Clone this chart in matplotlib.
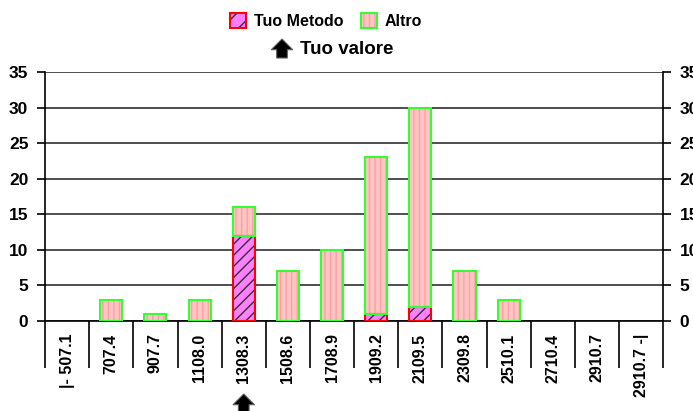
import numpy as np
import matplotlib
matplotlib.use('agg')
import matplotlib.pyplot as plt
from matplotlib.patches import Patch
from matplotlib.legend_handler import HandlerTuple

# class labels (x axis)
labels = ['|- 507.1', '707.4', '907.7', '1108.0', '1308.3', '1508.6', '1708.9',
          '1909.2', '2109.5', '2309.8', '2510.1', '2710.4', '2910.7', '2910.7 -|']
tuo_metodo = [0, 0, 0, 0, 12, 0, 0, 1, 2, 0, 0, 0, 0, 0]
altro = [0, 3, 1, 3, 4, 7, 10, 22, 28, 7, 3, 0, 0, 0]
tuo_valore_idx = 4

plt.rcParams['font.family'] = ['Liberation Sans', 'DejaVu Sans']
plt.rcParams['font.weight'] = 'bold'
plt.rcParams['hatch.linewidth'] = 1.0

fig = plt.figure(figsize=(6.93, 4.11), dpi=100)
ax = fig.add_axes([0.065, 0.219, 0.892, 0.606])

x = np.arange(len(labels))
tm = np.array(tuo_metodo)
al = np.array(altro)
w = 0.5

# fills with hatch (hatch colour = edgecolor), then outlines on top
ax.bar(x, tm, w, color='#ff80ff', edgecolor='#303030', hatch='///', lw=0, zorder=3)
ax.bar(x, al, w, bottom=tm, color='#ffc4c4', edgecolor='#ffa0a0', hatch='|||', lw=0, zorder=3)
mask_t = tm > 0
mask_a = al > 0
ax.bar(x[mask_t], tm[mask_t], w, fill=False, edgecolor='#ff0000', lw=1.5, zorder=4)
ax.bar(x[mask_a], al[mask_a], w, bottom=tm[mask_a], fill=False, edgecolor='#33ff33', lw=1.5, zorder=4)

ax.set_xlim(-0.5, len(labels) - 0.5)
ax.set_ylim(0, 35)
ax.set_yticks(range(0, 36, 5))
ax.yaxis.grid(True, color='#303030', lw=1.2, zorder=1)
ax.set_axisbelow(True)
ax.tick_params(axis='y', length=6, width=1.2, labelsize=12.5, pad=6,
               right=True, labelright=True)

ax.set_xticks(x)
ax.set_xticklabels(labels, rotation=90, va='top', fontsize=11.5)
ax.tick_params(axis='x', which='major', length=0, pad=9)
ax.set_xticks(np.arange(-0.5, len(labels)), minor=True)
ax.tick_params(axis='x', which='minor', length=34, width=1.2, direction='out')

for s in ['left', 'right', 'bottom']:
    ax.spines[s].set_linewidth(1.2)
ax.spines['top'].set_visible(False)

# legend
h_tm = (Patch(facecolor='#ff80ff', edgecolor='#303030', hatch='//', lw=0),
        Patch(fill=False, edgecolor='#ff0000', lw=1.5))
h_al = (Patch(facecolor='#ffc4c4', edgecolor='#ffa0a0', hatch='|||', lw=0),
        Patch(fill=False, edgecolor='#33ff33', lw=1.5))
fig.legend([h_tm, h_al], ['Tuo Metodo', 'Altro'], ncol=2, frameon=False,
           loc='center', bbox_to_anchor=(326 / 693, 1 - 21 / 411), fontsize=11.5,
           handler_map={tuple: HandlerTuple(ndivide=1)},
           handlelength=1.0, handleheight=1.1, columnspacing=1.1, handletextpad=0.5)

arrow = dict(arrowstyle='simple,head_length=0.55,head_width=1.1,tail_width=0.55',
             fc='black', ec='#606060', lw=0.8, shrinkA=0, shrinkB=0, mutation_scale=14)
fig.text(300, 411 - 49, 'Tuo valore', transform=None, fontsize=13.5,
         va='center', ha='left', fontweight='bold')
ax.annotate('', xy=(282, 411 - 39), xytext=(282, 411 - 58),
            xycoords='figure pixels', textcoords='figure pixels',
            arrowprops=arrow)
ax.annotate('', xy=(tuo_valore_idx, 411 - 394), xytext=(tuo_valore_idx, -6),
            xycoords=('data', 'figure pixels'), textcoords=('data', 'figure pixels'),
            arrowprops=arrow, annotation_clip=False)

fig.savefig('out.png', dpi=100)
